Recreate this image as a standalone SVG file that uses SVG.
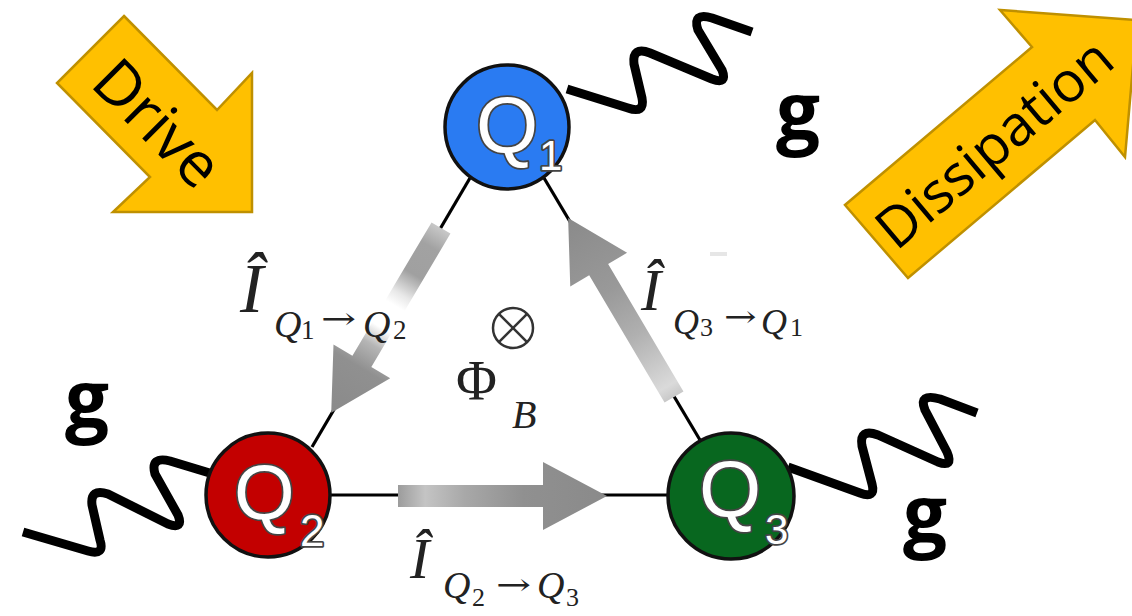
<svg xmlns="http://www.w3.org/2000/svg" width="1132" height="616" viewBox="0 0 1132 616">
<defs>
<style>
.yarrow{fill:#FFC000;stroke:#BF9000;stroke-width:2.5;stroke-linejoin:miter}
.ytext{font-family:"Open Sans","Noto Sans",sans-serif;fill:#000}
.wave{fill:none;stroke:#000;stroke-width:9;stroke-linejoin:round;stroke-linecap:butt}
.g{font-family:"Open Sans","Noto Sans",sans-serif;font-weight:bold;font-size:78px;fill:#000}
.edge{stroke:#000;stroke-width:3.2;fill:none}
.qc{stroke:#111;stroke-width:3.5}
.ql{font-family:"Liberation Sans",Arial,sans-serif;fill:#fff;stroke:#444;stroke-width:3.5;paint-order:stroke fill;stroke-linejoin:round}
.mi{font-family:"Liberation Serif","Times New Roman",serif;font-style:italic;fill:#222}
.mr{font-family:"Liberation Serif","Times New Roman",serif;fill:#222}
.ar{font-family:"DejaVu Serif","Liberation Serif",serif;fill:#222;font-size:30px}
</style>
<linearGradient id="gA" x1="0" y1="0" x2="1" y2="0">
<stop offset="0" stop-color="#c8c8c8"/>
<stop offset="0.1" stop-color="#a2a2a2"/>
<stop offset="0.25" stop-color="#a0a0a0"/>
<stop offset="0.36" stop-color="#e8e8e8"/>
<stop offset="0.42" stop-color="#ffffff"/>
<stop offset="0.54" stop-color="#ffffff"/>
<stop offset="0.63" stop-color="#b5b5b5"/>
<stop offset="0.75" stop-color="#909090"/>
<stop offset="1" stop-color="#8a8a8a"/>
</linearGradient>
<linearGradient id="gB" x1="0" y1="0" x2="1" y2="0">
<stop offset="0" stop-color="#c8c8c8"/>
<stop offset="0.06" stop-color="#dadada"/>
<stop offset="0.35" stop-color="#b0b0b0"/>
<stop offset="0.6" stop-color="#999999"/>
<stop offset="1" stop-color="#8a8a8a"/>
</linearGradient>
<linearGradient id="gC" x1="0" y1="0" x2="1" y2="0">
<stop offset="0" stop-color="#9c9c9c"/>
<stop offset="0.13" stop-color="#c4c4c4"/>
<stop offset="0.32" stop-color="#a8a8a8"/>
<stop offset="0.6" stop-color="#909090"/>
<stop offset="1" stop-color="#8a8a8a"/>
</linearGradient>
<clipPath id="cutR"><rect x="0" y="0" width="803" height="616"/></clipPath>
</defs>
<rect width="1132" height="616" fill="#fff"/>

<g id="drive-arrow">
<polygon class="yarrow" points="124,16 217,110 252,73 252,212 113,212 150,177 57,83"/>
<text class="ytext" font-size="62" text-anchor="middle" transform="translate(158,123) rotate(45)" y="22">Drive</text>
</g>

<g id="dissipation-arrow">
<polygon class="yarrow" points="845,205 908,278 1095,120 1125,157 1137,20 1000,10 1032,47"/>
<text class="ytext" font-size="56" text-anchor="middle" transform="translate(994,143) rotate(-40.2)" y="20">Dissipation</text>
</g>

<g id="connectors">
<line class="edge" x1="470" y1="178" x2="312" y2="447"/>
<line class="edge" x1="544" y1="178" x2="700" y2="440"/>
<line class="edge" x1="330" y1="495" x2="668" y2="495"/>
<polygon fill="url(#gA)" transform="translate(441,228) rotate(120.7)" points="0,-11 155,-11 155,-33 215,0 155,33 155,11 0,11"/>
<polygon fill="url(#gB)" transform="translate(674,397) rotate(-120.6)" points="0,-11 148,-11 148,-33 208,0 148,33 148,11 0,11"/>
<polygon fill="url(#gC)" transform="translate(398,496)" points="0,-11 145,-11 145,-34 209,0 145,34 145,11 0,11"/>
</g>

<g id="couplings">
<path class="wave" d="M567,89 L628,108 Q645,114 642,98 L634,64 Q632,46 650,53 L712,79 Q728,85 722,70 L698,30 Q692,12 712,18 L752,32"/>
<path class="wave" d="M23,532 L88,551 Q105,556 100,540 L92,505 Q90,488 108,494 L168,524 Q184,530 178,515 L155,474 Q150,456 170,461 L213,474"/>
<path class="wave" d="M788,467 L860,493 Q876,499 872,484 L862,446 Q859,428 878,435 L938,462 Q954,468 947,452 L925,410 Q918,393 940,399 L977,413"/>
<text class="g" x="776" y="139">g</text>
<text class="g" x="65" y="427">g</text>
<text class="g" x="903" y="542">g</text>
</g>

<g id="node-q1">
<circle class="qc" cx="507" cy="127" r="62" fill="#2A7BF2"/>
<text class="ql" x="476" y="153" font-size="80">Q</text>
<text class="ql" x="539" y="170" font-size="42">1</text>
</g>

<g id="node-q2">
<circle class="qc" cx="268" cy="495" r="62" fill="#C30000"/>
<text class="ql" x="234" y="519" font-size="78">Q</text>
<text class="ql" x="300" y="546" font-size="44">2</text>
</g>

<g id="node-q3">
<circle class="qc" cx="731" cy="496" r="63" fill="#08671F"/>
<text class="ql" x="699" y="517" font-size="80">Q</text>
<text class="ql" x="765" y="544" font-size="42">3</text>
</g>

<g id="label-q1q2">
<text class="mi" x="240" y="312" font-size="70">Î</text>
<text class="mi" x="274" y="337" font-size="38">Q</text>
<text class="mr" x="301" y="339" font-size="27">1</text>
<text class="ar" transform="translate(321,329) scale(1.4,1)">→</text>
<text class="mi" x="363" y="337" font-size="38">Q</text>
<text class="mr" x="393" y="339" font-size="27">2</text>
</g>

<g id="label-q3q1" clip-path="url(#cutR)">
<rect x="710" y="252" width="17" height="4" fill="#e6e6e6"/>
<text class="mi" x="641" y="310" font-size="60">Î</text>
<text class="mi" x="673" y="334" font-size="36">Q</text>
<text class="mr" x="700" y="336" font-size="26">3</text>
<text class="ar" transform="translate(724,327) scale(1.3,1)">→</text>
<text class="mi" x="761" y="334" font-size="36">Q</text>
<text class="mr" x="790" y="336" font-size="26">1</text>
</g>

<g id="label-q2q3">
<text class="mi" x="410" y="578" font-size="58">Î</text>
<text class="mi" x="443" y="598" font-size="38">Q</text>
<text class="mr" x="472" y="606" font-size="26">2</text>
<text class="ar" transform="translate(496,595) scale(1.4,1)">→</text>
<text class="mi" x="537" y="598" font-size="38">Q</text>
<text class="mr" x="566" y="606" font-size="26">3</text>
</g>

<g id="flux">
<circle cx="513" cy="328" r="20" fill="none" stroke="#333" stroke-width="2.5"/>
<line x1="498.9" y1="313.9" x2="527.1" y2="342.1" stroke="#333" stroke-width="2.5"/>
<line x1="527.1" y1="313.9" x2="498.9" y2="342.1" stroke="#333" stroke-width="2.5"/>
<text class="mr" x="456" y="400" font-size="56">Φ</text>
<text class="mi" x="512" y="428" font-size="40">B</text>
</g>
</svg>
